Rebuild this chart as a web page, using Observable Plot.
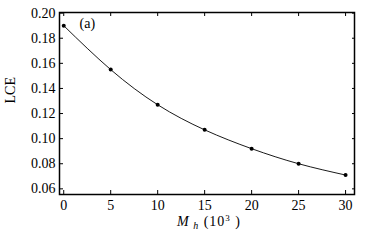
<!DOCTYPE html>
<html><head><meta charset="utf-8">
<script src="https://cdn.jsdelivr.net/npm/d3@7"></script>
<script src="https://cdn.jsdelivr.net/npm/@observablehq/plot@0.6"></script>
<style>body{margin:0;background:#fff}</style>
</head><body><div id="chart"></div>
<script>
const mh = [0, 5, 10, 15, 20, 25, 30];
const lce = [0.190, 0.155, 0.127, 0.107, 0.092, 0.080, 0.071];
const xTicks = [0, 5, 10, 15, 20, 25, 30];
const yTicks = [0.06, 0.08, 0.10, 0.12, 0.14, 0.16, 0.18, 0.20];
const panelLabel = "(a)";
const yLabel = "LCE";

const data = mh.map((m, i) => ({m, v: lce[i]}));
const font = "'Liberation Serif', 'Times New Roman', serif";

const chart = Plot.plot({
  width: 371, height: 241,
  marginLeft: 59, marginTop: 12, marginRight: 17, marginBottom: 47,
  style: {fontFamily: font, fontSize: "14px", color: "#000", background: "#fff"},
  x: {domain: [-0.45, 30.95]},
  y: {domain: [0.0555, 0.2005]},
  marks: [
    Plot.frame({stroke: "#000", strokeWidth: 1.5}),
    Plot.axisX({ticks: xTicks, tickSize: -4, tickPadding: 10, tickFormat: d => d, label: null, fontFamily: font, fontSize: 14}),
    Plot.axisX({anchor: "top", ticks: xTicks, tickSize: -3, tickFormat: () => "", label: null}),
    Plot.axisY({ticks: yTicks, tickSize: -4, tickPadding: 8, tickFormat: d3.format(".2f"), label: null, fontFamily: font, fontSize: 14}),
    Plot.axisY({anchor: "right", ticks: yTicks, tickSize: -3, tickFormat: () => "", label: null}),
    Plot.line(data, {x: "m", y: "v", curve: "natural", stroke: "#000", strokeWidth: 0.9}),
    Plot.dot(data, {x: "m", y: "v", r: 2, fill: "#000", stroke: "none"}),
    Plot.text([panelLabel], {frameAnchor: "top-left", dx: 20, dy: 6, text: d => d, fontSize: 14, fontFamily: font, textAnchor: "start", lineAnchor: "top"}),
    Plot.text([yLabel], {frameAnchor: "left", dx: -49, rotate: -90, text: d => d, fontSize: 14, fontFamily: font, letterSpacing: "2px"})
  ]
});
document.getElementById("chart").appendChild(chart);

const svg = d3.select(chart);
const t = svg.append("text")
  .attr("x", 209).attr("y", 226)
  .attr("text-anchor", "middle")
  .attr("font-family", font).attr("font-size", 14).attr("fill", "#000")
  .attr("letter-spacing", "1px");
t.append("tspan").attr("font-style", "italic").text("M");
t.append("tspan").attr("font-style", "italic").attr("font-size", 10).attr("dy", 3).text(" h");
t.append("tspan").attr("dy", -3).text(" (10");
t.append("tspan").attr("font-size", 9).attr("dy", -5).text("3");
t.append("tspan").attr("dy", 5).text(" )");
</script></body></html>
